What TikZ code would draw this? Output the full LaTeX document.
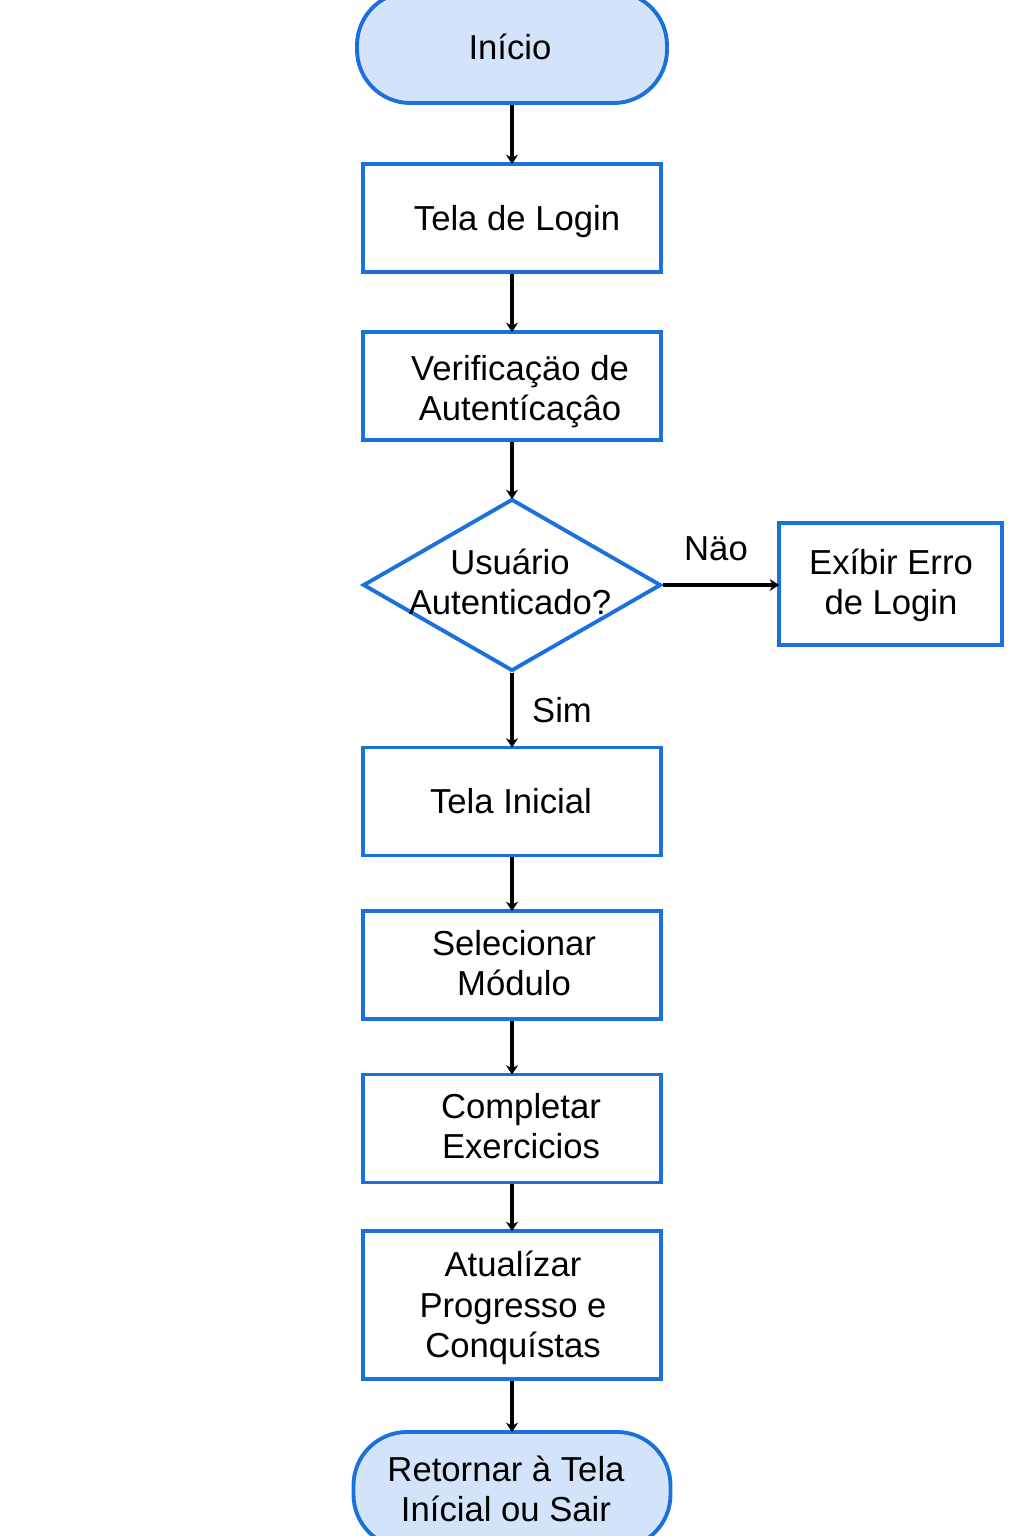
\documentclass[tikz,border=0pt]{standalone}
\usepackage{fontspec}
\setmainfont{Liberation Sans}
\usetikzlibrary{arrows.meta,shapes.geometric}
\definecolor{bord}{HTML}{1A70DC}
\definecolor{fillb}{HTML}{D3E4FA}
\tikzset{
  box/.style={draw=bord, line width=2.9pt, fill=white, rectangle, minimum width=298*0.75pt, minimum height=108*0.75pt, inner sep=0pt},
  term/.style={draw=bord, line width=2.9pt, fill=fillb, rectangle, rounded corners=40pt, inner sep=0pt},
  dia/.style={draw=bord, line width=2.9pt, fill=white, diamond, minimum width=298*0.75pt, minimum height=172*0.75pt, inner sep=0pt},
  txt/.style={font=\fontsize{26}{30}\selectfont, align=center, inner sep=0pt},
  arr/.style={draw=black, line width=2.6pt, -{Stealth[length=7pt,width=9pt]}, shorten >=-1.5pt},
  lbl/.style={font=\fontsize{26}{30}\selectfont, inner sep=0pt}
}
\begin{document}
\begin{tikzpicture}[x=0.75pt,y=-0.75pt]
\useasboundingbox (0,0) rectangle (1024,1536);
% nodes
\node[term, minimum width=310*0.75pt, minimum height=111*0.75pt] (start) at (512,47.5) {};
\node[txt] (startt) at (510,47) {Início};
\node[box] (login) at (512,218) {};
\node[txt] (logint) at (517,222) {Tela de Login};
\node[box] (verif) at (512,386) {};
\node[txt] (verift) at (520,392) {Verificaçäo de\\Autentícaçâo};
\node[dia] (dec) at (512,585) {};
\node[txt] (dect) at (510,582) {Usuário\\Autenticado?};
\node[box, minimum width=223*0.75pt, minimum height=122*0.75pt] (err) at (890.5,584) {};
\node[txt] (errt) at (891,585) {Exíbir Erro\\de Login};
\node[box] (home) at (512,801.5) {};
\node[txt] (homet) at (511,801) {Tela Inicial};
\node[box] (sel) at (512,965) {};
\node[txt] (selt) at (514,963) {Selecionar\\Módulo};
\node[box] (comp) at (512,1128.5) {};
\node[txt] (compt) at (521,1126) {Completar\\Exercicios};
\node[box, minimum height=148*0.75pt] (upd) at (512,1305) {};
\node[txt, font=\fontsize{26}{30.5}\selectfont] (updt) at (513,1308) {Atualízar\\Progresso e\\Conquístas};
\node[term, minimum width=317*0.75pt, minimum height=116*0.75pt] (end) at (512,1490) {};
\node[txt] (endt) at (506,1489) {Retornar à Tela\\Inícial ou Sair};
% connectors
\draw[arr] (start.south) -- (login.north);
\draw[arr] (login.south) -- (verif.north);
\draw[arr] (verif.south) -- (dec.north);
\draw[arr] (dec.east) -- (err.west |- dec.east);
\draw[arr] (dec.south) -- (home.north);
\draw[arr] (home.south) -- (sel.north);
\draw[arr] (sel.south) -- (comp.north);
\draw[arr] (comp.south) -- (upd.north);
\draw[arr] (upd.south) -- (end.north);
% labels
\node[lbl] (nao) at (716,549) {Näo};
\node[lbl] (sim) at (562,710) {Sim};
\end{tikzpicture}
\end{document}
